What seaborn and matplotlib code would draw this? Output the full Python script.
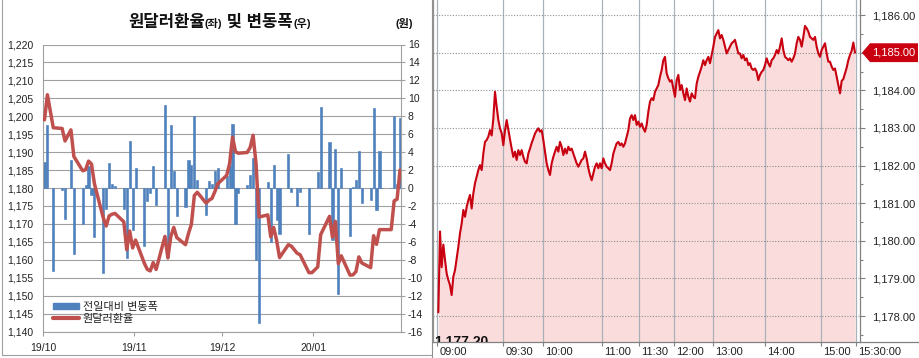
import numpy as np
import pandas as pd
import matplotlib
matplotlib.use("Agg")
import matplotlib.pyplot as plt
import matplotlib.dates as mdates
import seaborn as sns
from matplotlib.patches import Patch, Polygon
from matplotlib.lines import Line2D
from matplotlib import transforms
from matplotlib.ticker import FuncFormatter, MultipleLocator

# ---------------- data: left panel (daily) ----------------
dates = [
    "2019-10-01", "2019-10-02", "2019-10-04", "2019-10-07", "2019-10-08", "2019-10-10", "2019-10-11",
    "2019-10-14", "2019-10-15", "2019-10-16", "2019-10-17", "2019-10-18", "2019-10-21", "2019-10-22",
    "2019-10-23", "2019-10-24", "2019-10-25", "2019-10-28", "2019-10-29", "2019-10-30", "2019-10-31",
    "2019-11-01", "2019-11-04", "2019-11-05", "2019-11-06", "2019-11-07", "2019-11-08", "2019-11-11",
    "2019-11-12", "2019-11-13", "2019-11-14", "2019-11-15", "2019-11-18", "2019-11-19", "2019-11-20",
    "2019-11-21", "2019-11-22", "2019-11-25", "2019-11-26", "2019-11-27", "2019-11-28", "2019-11-29",
    "2019-12-02", "2019-12-03", "2019-12-04", "2019-12-05", "2019-12-06", "2019-12-09", "2019-12-10",
    "2019-12-11", "2019-12-12", "2019-12-13", "2019-12-16", "2019-12-17", "2019-12-18", "2019-12-19",
    "2019-12-20", "2019-12-23", "2019-12-24", "2019-12-26", "2019-12-27", "2019-12-30", "2019-12-31",
    "2020-01-02", "2020-01-03", "2020-01-06", "2020-01-07", "2020-01-08", "2020-01-09", "2020-01-10",
    "2020-01-13", "2020-01-14", "2020-01-15", "2020-01-16", "2020-01-17", "2020-01-20", "2020-01-21",
    "2020-01-22", "2020-01-23", "2020-01-24", "2020-01-27", "2020-01-28", "2020-01-29", "2020-01-30",
]
usdkrw = [
    1199.0, 1206.0, 1196.8, 1196.6, 1193.1, 1196.2, 1188.8,
    1184.8, 1185.1, 1187.5, 1186.7, 1181.2, 1171.7, 1169.4,
    1172.2, 1172.7, 1172.9, 1170.6, 1162.8, 1168.0, 1163.3,
    1165.5, 1159.0, 1157.3, 1156.9, 1159.2, 1157.3, 1166.5,
    1160.5, 1166.5, 1169.0, 1166.2, 1164.2, 1167.3, 1169.9,
    1177.9, 1178.8, 1175.8, 1176.6, 1177.1, 1179.0, 1181.2,
    1183.5, 1186.8, 1194.2, 1190.1, 1189.7, 1189.9, 1191.3,
    1194.7, 1186.7, 1171.9, 1172.5, 1166.4, 1169.0, 1165.4,
    1160.6, 1164.2, 1163.8, 1161.8, 1161.4, 1156.4, 1156.4,
    1158.0, 1167.0, 1172.1, 1166.3, 1170.7, 1158.9, 1161.1,
    1155.7, 1155.8, 1156.7, 1160.8, 1159.1, 1157.8, 1166.7,
    1164.3, 1168.4, 1168.4, 1168.4, 1176.4, 1176.9, 1185.0,
]
daily_change = [
    2.9, 7.0, -9.2, -0.2, -3.5, 3.1, -7.4,
    -4.0, 0.3, 2.4, -0.8, -5.5, -9.5, -2.3,
    2.8, 0.5, 0.2, -2.3, -7.8, 5.2, -4.7,
    2.2, -6.5, -1.5, -0.6, 2.5, -1.9, 9.3,
    -7.7, 7.0, 1.9, -3.1, -2.1, 3.1, 2.6,
    8.0, 0.9, -3.0, 0.8, 0.5, 1.9, 2.2,
    1.3, 2.4, 7.1, -4.0, -0.6, 0.3, 1.5,
    3.4, -8.0, -15.1, 0.7, -6.0, 2.6, -3.6,
    -5.1, 3.8, -0.5, -2.0, -0.4, -5.1, 0.0,
    1.8, 9.0, 5.1, -5.8, 4.4, -11.8, 2.2,
    -5.4, 0.1, 0.9, 4.1, -1.7, -1.3, 8.9,
    -2.4, 4.1, 0.0, 0.0, 8.0, 0.4, 7.8,
]
month_starts = ["2019-10-01", "2019-11-01", "2019-12-01", "2020-01-01"]
month_labels = ["19/10", "19/11", "19/12", "20/01"]
title_parts = [("원달러환율", 12), ("(좌)", 8), (" 및 변동폭", 12), ("(우)", 8)]
unit_label = "(원)"
legend_labels = ["전일대비 변동폭", "원달러환율"]

# ---------------- data: right panel (intraday) ----------------
intraday_price = [
    1178.10, 1180.25, 1179.30, 1179.90, 1179.50, 1179.13, 1178.96, 1178.82, 1178.56, 1179.05,
    1179.22, 1179.53, 1179.84, 1180.20, 1180.46, 1180.82, 1180.64, 1180.90, 1181.08, 1181.22,
    1180.86, 1181.26, 1181.53, 1181.70, 1181.88, 1182.01, 1181.88, 1182.32, 1182.63, 1182.68,
    1182.77, 1182.94, 1182.80, 1183.25, 1183.96, 1183.56, 1183.21, 1182.99, 1182.86, 1182.54,
    1182.94, 1183.21, 1182.95, 1182.70, 1182.45, 1182.23, 1182.37, 1182.15, 1182.41, 1182.28,
    1182.41, 1182.23, 1182.10, 1182.06, 1182.32, 1182.45, 1182.60, 1182.72, 1182.85, 1182.93,
    1182.99, 1182.90, 1182.94, 1182.68, 1182.37, 1182.06, 1181.88, 1181.75, 1182.06, 1182.23,
    1182.37, 1182.50, 1182.37, 1182.63, 1182.50, 1182.28, 1182.45, 1182.32, 1182.50, 1182.41,
    1182.45, 1182.32, 1182.19, 1182.06, 1181.97, 1182.06, 1182.15, 1182.19, 1182.37, 1182.19,
    1181.93, 1181.75, 1181.61, 1181.79, 1181.97, 1182.06, 1181.93, 1182.06, 1181.93, 1182.19,
    1182.06, 1181.97, 1181.93, 1181.88, 1182.06, 1182.32, 1182.46, 1182.59, 1182.63, 1182.54,
    1182.59, 1182.50, 1182.59, 1182.77, 1182.94, 1183.25, 1183.34, 1183.21, 1183.34, 1183.08,
    1183.17, 1183.03, 1183.12, 1182.99, 1182.90, 1183.08, 1183.43, 1183.70, 1183.79, 1183.74,
    1183.96, 1184.05, 1184.14, 1184.36, 1184.54, 1184.80, 1184.89, 1184.45, 1184.32, 1184.23,
    1184.27, 1184.05, 1183.83, 1184.27, 1184.41, 1184.01, 1184.14, 1183.92, 1183.74, 1184.05,
    1183.83, 1183.70, 1183.92, 1183.83, 1183.79, 1184.18, 1184.36, 1184.49, 1184.63, 1184.80,
    1184.67, 1184.80, 1184.89, 1184.72, 1184.94, 1185.16, 1185.42, 1185.51, 1185.60, 1185.38,
    1185.47, 1185.34, 1185.16, 1184.98, 1185.07, 1185.16, 1185.25, 1185.29, 1185.34, 1185.16,
    1184.98, 1184.98, 1184.85, 1184.94, 1184.80, 1184.85, 1184.67, 1184.72, 1184.58, 1184.54,
    1184.58, 1184.49, 1184.27, 1184.41, 1184.49, 1184.54, 1184.67, 1184.85, 1184.72, 1184.63,
    1184.80, 1184.85, 1184.94, 1185.07, 1184.98, 1185.16, 1185.38, 1185.07, 1184.89, 1184.85,
    1184.80, 1184.85, 1184.76, 1184.85, 1184.98, 1185.25, 1185.42, 1185.34, 1185.16, 1185.42,
    1185.71, 1185.65, 1185.56, 1185.42, 1185.38, 1185.34, 1185.42, 1185.16, 1184.98, 1184.89,
    1185.07, 1185.16, 1185.25, 1184.98, 1184.76, 1184.76, 1184.63, 1184.54, 1184.58, 1184.36,
    1184.14, 1183.92, 1184.25, 1184.30, 1184.45, 1184.60, 1184.80, 1184.94, 1185.05, 1185.27,
    1185.00,
]
time_labels = ["09:00", "09:30", "10:00", "11:00", "11:30", "12:00", "13:00", "14:00", "15:00", "15:30:00"]
time_label_tick_no = [-0.6, 39, 62.6, 98, 120.6, 141.4, 164.6, 196, 229.6, 250.6]
last_price = 1185.00
low_label = "1,177.20"

# ---------------- style ----------------
sns.set_style("white")
plt.rcParams["font.family"] = ["Liberation Sans", "Noto Sans CJK KR", "DejaVu Sans"]
plt.rcParams["axes.unicode_minus"] = False

W, H = 920, 358
fig = plt.figure(figsize=(W / 100, H / 100), dpi=100)
fig.patch.set_facecolor("white")

def fx(px):
    return px / W

def fy(py):
    return 1 - py / H

GRID = "#a0a0a0"
BLUE = "#4F81BD"
RED = "#C0504D"

# ---------------- left panel ----------------
axL = fig.add_axes([fx(43), fy(331.5), fx(401.5) - fx(43), fy(44.5) - fy(331.5)])
axL2 = axL.twinx()

dnum = mdates.date2num(pd.to_datetime(dates))
sns.barplot(x=dnum, y=daily_change, ax=axL, native_scale=True, color=BLUE,
            width=0.72, errorbar=None, saturation=1, zorder=2,
            edgecolor=BLUE, linewidth=0.45)
sns.lineplot(x=dnum, y=usdkrw, ax=axL2, color=RED, linewidth=2.5, zorder=3)

x0 = mdates.date2num(pd.Timestamp("2019-10-01")) - 0.5
x1 = mdates.date2num(pd.Timestamp("2020-01-30")) + 0.5
axL.set_xlim(x0, x1)
axL2.set_xlim(x0, x1)
axL.set_ylim(-16, 16)
axL.set_yticks(np.arange(-16, 17, 2))
axL.yaxis.set_major_formatter(FuncFormatter(lambda v, p: f"{v:.0f}"))
axL2.set_ylim(1140, 1220)
axL2.set_yticks(np.arange(1140, 1221, 5))
axL2.yaxis.set_major_formatter(FuncFormatter(lambda v, p: f"{v:,.0f}"))

axL.yaxis.tick_right()
axL2.yaxis.tick_left()
mticks = mdates.date2num(pd.to_datetime(month_starts)) - 0.5
axL.set_xticks(mticks)
axL.set_xticklabels(month_labels)

axL.grid(axis="y", color=GRID, linewidth=0.8)
axL.grid(axis="x", visible=False)
axL.set_axisbelow(True)
for a in (axL, axL2):
    a.set_xlabel("")
    a.set_ylabel("")
for s in ("left", "right", "bottom"):
    axL.spines[s].set_color(GRID)
    axL.spines[s].set_linewidth(0.8)
axL.spines["top"].set_visible(False)
for s in axL2.spines.values():
    s.set_visible(False)

axL.tick_params(axis="y", which="major", right=True, left=False, length=3, width=0.8,
                color=GRID, labelsize=7.5, pad=1.5, labelcolor="#222222")
axL2.tick_params(axis="y", left=True, right=False, length=0, pad=7, labelsize=7.5,
                 labelcolor="#222222")
axL.tick_params(axis="x", bottom=True, length=3, width=0.8, color=GRID, pad=5,
                labelsize=7.5, labelcolor="#222222")

handles = [Patch(facecolor=BLUE, edgecolor=BLUE),
           Line2D([0], [0], color=RED, linewidth=3)]
axL2.legend(handles, legend_labels, loc="lower left", bbox_to_anchor=(0.005, 0.0),
            frameon=False, fontsize=8, handlelength=2.4, handleheight=0.45,
            labelspacing=0.15, handletextpad=0.3, borderpad=0.2, labelcolor="#222222")

# ---------------- right panel ----------------
YLO, YHI = 1177.32, 1186.40
axR = fig.add_axes([fx(433), fy(341.7), fx(860) - fx(433), fy(0) - fy(341.7)])
idx = np.arange(len(intraday_price))
axR.fill_between(idx, intraday_price, YLO, color="#fadcdc", linewidth=0, zorder=1)
sns.lineplot(x=idx, y=intraday_price, ax=axR, color="#c80010", linewidth=1.5, zorder=3)
axR.set_xlim(-3.2, 253)
axR.set_ylim(YLO, YHI)
axR.set_xlabel("")
axR.set_ylabel("")
axR.yaxis.tick_right()
axR.set_yticks(np.arange(1178, 1187, 1))
axR.yaxis.set_minor_locator(MultipleLocator(0.5))
axR.yaxis.set_major_formatter(FuncFormatter(lambda v, p: f"{v:,.2f}"))
axR.set_xticks(time_label_tick_no)
axR.set_xticklabels(time_labels)
axR.set_axisbelow("line")
axR.grid(axis="x", color="#a8b0b8", linewidth=0.9, linestyle="-")
axR.grid(axis="y", color="#909090", linewidth=0.8, linestyle=(0, (1, 1.5)))
axR.spines["top"].set_visible(False)
axR.spines["left"].set_color("#909090")
axR.spines["right"].set_color("#808080")
axR.spines["bottom"].set_color("#808080")
for s in ("left", "right", "bottom"):
    axR.spines[s].set_linewidth(0.9)
axR.tick_params(axis="y", which="major", right=True, left=False, length=3.5, width=0.8,
                color="#808080", pad=5, labelsize=8, labelcolor="#222222")
axR.tick_params(axis="y", which="minor", right=True, left=False, length=2, width=0.8,
                color="#808080")
axR.tick_params(axis="x", bottom=True, length=3, width=0.8, color="#808080", pad=0.5,
                labelsize=8, labelcolor="#222222")
shift = transforms.ScaledTranslation(1.5 / 72, 0, fig.dpi_scale_trans)
for lbl in axR.get_xticklabels():
    lbl.set_horizontalalignment("left")
    lbl.set_transform(lbl.get_transform() + shift)

axR.text(-2.6, 1177.52, low_label, fontsize=10, fontweight="bold", color="#111111",
         ha="left", va="top", clip_on=True, zorder=4)

# price tag
blend = transforms.blended_transform_factory(fig.transFigure, axR.transData)
h = 0.25
tag = Polygon([(fx(862), last_price), (fx(870), last_price + h), (fx(918), last_price + h),
               (fx(918), last_price - h), (fx(870), last_price - h)], closed=True,
              transform=blend, facecolor="#c8000f", edgecolor="none", zorder=5)
fig.add_artist(tag)
fig.text(fx(872), last_price, f"{last_price:,.2f}", transform=blend, color="white",
         fontsize=8, ha="left", va="center", zorder=6)

# frames
fig.add_artist(Line2D([fx(2.5), fx(2.5)], [fy(0), fy(355)], transform=fig.transFigure,
                      color=GRID, linewidth=0.8))
fig.add_artist(Line2D([fx(2.5), fx(432)], [fy(355), fy(355)], transform=fig.transFigure,
                      color=GRID, linewidth=0.8))
fig.add_artist(Line2D([fx(432), fx(432)], [fy(0), fy(358)], transform=fig.transFigure,
                      color="#909090", linewidth=0.8))
fig.add_artist(Line2D([fx(860), fx(920)], [fy(341.7), fy(341.7)], transform=fig.transFigure,
                      color="#808080", linewidth=0.9))

# title and unit
fig.canvas.draw()
r = fig.canvas.get_renderer()
xpos = 128
for s, size in title_parts:
    t = fig.text(fx(xpos), fy(27), s, fontsize=size, fontweight="bold", color="#111111",
                 ha="left", va="baseline")
    xpos += t.get_window_extent(renderer=r).width
fig.text(fx(396), fy(27), unit_label, fontsize=8, fontweight="bold", color="#111111",
         ha="left", va="baseline")

fig.savefig("out.png", dpi=100)
